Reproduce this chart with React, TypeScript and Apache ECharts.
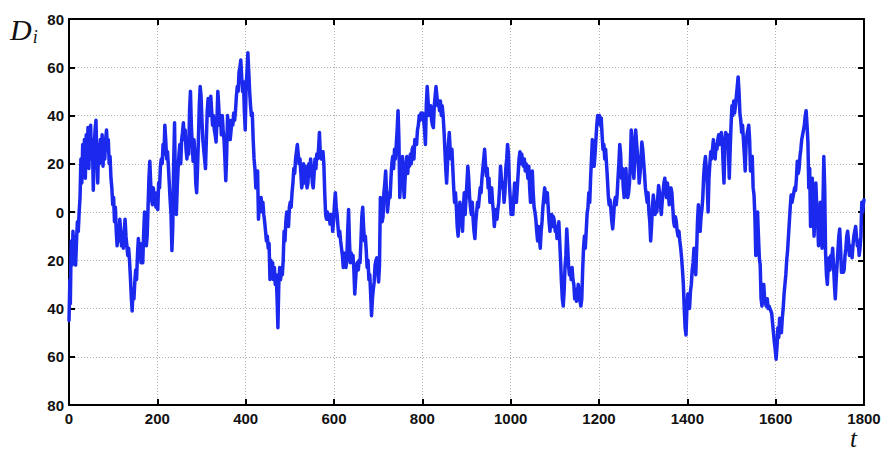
import React, { useEffect, useRef } from "react";
import * as echarts from "echarts";

// Sample times (t) and the measured deviation D_i at each time
const tPart1 = [0,2,3,5,7,9,11,13,15,17,19,21,23,25,27,29,31,33,35,37,39,41,43,45,47,49,51,53,55,57,59,61,63,65,67,69,71,73,75,77,79,81,83,85,87,89,91,93,95,97,99,101,103,105,107,109,111,113,115,117,119,121,123,125,127,129,131,133,135,137,139,141,143,145,147,149,151,153,155,157,159,161,163,165,167,169,171,173,175,177,179,181,183,185,187,189,191,193,195,197,199,201,203,205,207,209,211,213,215,217,219,221,223,225,227,229,231,233,235,237,239,241,243,245,247,249,251,253,255,257,259,261,263,265,267,269,271,273,275,277,279,281,283,285,287,289,291,293,295,297,299];
const dPart1 = [-45,-28,-38,-12,-22,-8,-18,-10,-22,-12,-4,-8,0,6,22,12,28,16,30,14,32,20,35,18,33,36,22,30,9,26,34,38,24,12,28,20,30,24,32,19,28,22,30,34,26,30,20,23,14,10,3,6,-4,2,-8,-14,-6,-12,-3,-8,-14,-10,-15,-8,-3,-10,-14,-18,-15,-20,-27,-35,-41,-32,-36,-29,-24,-28,-18,-11,-16,-13,-21,-17,-21,-9,0,-6,-14,-10,2,14,21,12,5,3,10,6,4,2,8,1,12,10,19,22,20,28,24,36,30,22,25,19,12,5,-1,-16,-6,20,37,8,-1,10,18,24,28,20,30,33,37,30,34,26,22,28,24,42,50,36,28,21,30,24,12,8,18,30,44,52,48];

const tPart2 = [301,303,305,307,309,311,313,315,317,319,321,323,325,327,329,331,333,335,337,339,341,343,345,347,349,351,353,355,357,359,361,363,365,367,369,371,373,375,377,379,381,383,385,387,389,391,393,395,397,399,401,403,405,407,409,411,413,415,417,419,421,423,425,427,429,431,433,435,437,439,441,443,445,447,449,451,453,455,457,459,461,463,465,467,469,471,473,475,477,479,481,483,485,487,489,491,493,495,497,499,501,503,505,507,509,511,513,515,517,519,521,523,525,527,529,531,533,535,537,539,541,543,545,547,549,551,553,555,557,559,561,563,565,567,569,571,573,575,577,579,581,583,585,587,589,591,593,595,597,599];
const dPart2 = [38,30,26,22,18,30,42,47,40,44,48,42,36,40,34,32,29,38,50,44,36,40,32,40,34,30,22,13,24,40,32,38,30,34,38,36,41,38,42,48,52,50,58,60,63,56,50,54,42,34,52,58,66,58,50,44,40,41,30,22,18,10,14,17,-3,4,2,6,0,4,-1,-4,-8,-12,-10,-15,-13,-28,-20,-25,-21,-28,-23,-30,-26,-35,-48,-30,-23,-28,-24,-26,-20,-8,-12,-4,0,-1,-6,2,4,2,8,12,18,16,22,25,28,24,20,22,16,10,13,20,12,19,14,10,12,20,15,22,18,12,10,16,22,18,24,22,26,33,24,22,24,25,20,8,-1,-3,0,-3,-1,-5,-3,-1,-8,-4];

const tPart3 = [601,603,605,607,609,611,613,615,617,619,621,623,625,627,629,631,633,635,637,639,641,643,645,647,649,651,653,655,657,659,661,663,665,667,669,671,673,675,677,679,681,683,685,687,689,691,693,695,697,699,701,703,705,707,709,711,713,715,717,719,721,723,725,727,729,731,733,735,737,739,741,743,745,747,749,751,753,755,757,759,761,763,765,767,769,771,773,775,777,779,781,783,785,787,789,791,793,795,797,799,801,803,805,807,809,811,813,815,817,819,821,823,825,827,829,831,833,835,837,839,841,843,845,847,849,851,853,855,857,859,861,863,865,867,869,871,873,875,877,879,881,883,885,887,889,891,893,895,897,899];
const dPart3 = [3,8,2,-1,-6,-10,-8,-12,-15,-18,-23,-17,-21,-23,-20,-8,1,-12,-21,-17,-20,-18,-24,-34,-28,-22,-21,-24,-20,-21,-12,-2,2,-6,-12,-10,-16,-23,-20,-28,-26,-34,-43,-36,-32,-29,-22,-20,-19,-24,-29,-22,6,0,-4,-2,8,12,17,8,0,4,8,6,14,20,23,18,26,22,28,34,42,30,6,14,18,23,12,6,14,20,23,16,22,19,24,20,26,27,22,30,28,28,34,36,40,38,41,40,41,38,34,28,44,52,46,40,41,44,38,36,35,44,48,52,48,44,46,42,46,40,44,40,34,26,18,12,20,28,33,26,22,26,18,10,4,8,2,-6,-10,-2,4,1,-4,-8,2,8,-1,6];

const tPart4 = [901,903,905,907,909,911,913,915,917,919,921,923,925,927,929,931,933,935,937,939,941,943,945,947,949,951,953,955,957,959,961,963,965,967,969,971,973,975,977,979,981,983,985,987,989,991,993,995,997,999,1001,1003,1005,1007,1009,1011,1013,1015,1017,1019,1021,1023,1025,1027,1029,1031,1033,1035,1037,1039,1041,1043,1045,1047,1049,1051,1053,1055,1057,1059,1061,1063,1065,1067,1069,1071,1073,1075,1077,1079,1081,1083,1085,1087,1089,1091,1093,1095,1097,1099,1101,1103,1105,1107,1109,1111,1113,1115,1117,1119,1121,1123,1125,1127,1129,1131,1133,1135,1137,1139,1141,1143,1145,1147,1149,1151,1153,1155,1157,1159,1161,1163,1165,1167,1169,1171,1173,1175,1177,1179,1181,1183,1185,1187,1189,1191,1193,1195,1197,1199];
const dPart4 = [12,19,14,6,2,-1,4,-3,-8,-11,-4,0,4,2,6,10,8,14,18,22,26,20,15,18,10,14,4,8,10,4,0,-6,-2,1,-3,1,4,10,19,14,10,12,4,8,18,22,28,24,12,6,-1,2,-1,6,12,8,4,10,16,22,25,20,24,21,19,22,17,20,18,14,19,10,4,12,17,8,2,0,-3,-8,-12,-6,-10,-15,-8,-4,2,6,10,7,4,8,2,-4,-8,-3,-1,-6,-2,-4,-8,-6,-11,-8,-4,-12,-20,-29,-36,-39,-33,-23,-18,-7,-14,-22,-26,-24,-28,-23,-28,-30,-36,-32,-37,-34,-30,-33,-37,-39,-36,-24,-15,-10,-15,-8,-1,2,8,4,14,22,30,26,19,24,30,36,40,38];

const tPart5 = [1201,1203,1205,1207,1209,1211,1213,1215,1217,1219,1221,1223,1225,1227,1229,1231,1233,1235,1237,1239,1241,1243,1245,1247,1249,1251,1253,1255,1257,1259,1261,1263,1265,1267,1269,1271,1273,1275,1277,1279,1281,1283,1285,1287,1289,1291,1293,1295,1297,1299,1301,1303,1305,1307,1309,1311,1313,1315,1317,1319,1321,1323,1325,1327,1329,1331,1333,1335,1337,1339,1341,1343,1345,1347,1349,1351,1353,1355,1357,1359,1361,1363,1365,1367,1369,1371,1373,1375,1377,1379,1381,1383,1385,1387,1389,1391,1393,1395,1397,1399,1401,1403,1405,1407,1409,1411,1413,1415,1417,1419,1421,1423,1425,1427,1429,1431,1433,1435,1437,1439,1441,1443,1445,1447,1449,1451,1453,1455,1457,1459,1461,1463,1465,1467,1469,1471,1473,1475,1477,1479,1481,1483,1485,1487,1489,1491,1493,1495,1497,1499];
const dPart5 = [40,36,39,32,26,28,22,26,20,14,7,3,5,1,-4,-7,-2,4,6,3,7,14,20,28,24,14,18,10,6,14,18,10,6,8,12,20,34,30,18,14,22,34,29,24,20,12,16,22,29,26,21,16,10,7,4,8,0,-4,-12,-6,2,7,3,-1,4,0,6,11,8,3,-1,4,8,12,14,10,6,12,8,3,6,10,8,2,-4,-6,-2,-4,-8,-10,-8,-12,-15,-19,-24,-30,-40,-48,-51,-40,-34,-38,-40,-33,-30,-24,-21,-15,-20,-26,-16,-4,3,-2,-8,-2,1,6,15,20,23,18,12,0,14,20,25,22,26,30,26,22,28,26,30,32,28,30,33,30,20,12,26,33,30,32,26,14,26,36];

const tPart6 = [1501,1503,1505,1507,1509,1511,1513,1515,1517,1519,1521,1523,1525,1527,1529,1531,1533,1535,1537,1539,1541,1543,1545,1547,1549,1551,1553,1555,1557,1559,1561,1563,1565,1567,1569,1571,1573,1575,1577,1579,1581,1583,1585,1587,1589,1591,1593,1595,1597,1599,1601,1603,1605,1607,1609,1611,1613,1615,1617,1619,1621,1623,1625,1627,1629,1631,1633,1635,1637,1639,1641,1643,1645,1647,1649,1651,1653,1655,1657,1659,1661,1663,1665,1667,1669,1671,1673,1675,1677,1679,1681,1683,1685,1687,1689,1691,1693,1695,1697,1699,1701,1703,1705,1707,1709,1711,1713,1715,1717,1719,1721,1723,1725,1727,1729,1731,1733,1735,1737,1739,1741,1743,1745,1747,1749,1751,1753,1755,1757,1759,1761,1763,1765,1767,1769,1771,1773,1775,1777,1779,1781,1783,1785,1787,1789,1791,1793,1795,1797,1799,1800];
const dPart6 = [44,40,46,41,44,48,52,56,50,41,38,33,36,30,24,17,28,32,34,36,30,17,22,23,10,7,-2,-18,-8,0,-10,-19,-22,-36,-39,-34,-30,-36,-38,-39,-36,-40,-39,-40,-41,-42,-46,-50,-54,-57,-61,-56,-48,-52,-44,-47,-50,-44,-40,-34,-30,-26,-20,-16,-10,-4,2,7,4,6,8,10,9,14,21,16,18,23,26,30,32,34,36,40,42,36,29,10,18,-6,4,14,0,-10,4,12,2,-4,-14,-6,4,-8,-15,2,23,10,-17,-26,-30,-22,-19,-24,-18,-20,-15,-22,-30,-36,-28,-22,-16,-10,-7,-15,-25,-22,-25,-24,-18,-15,-10,-8,-12,-18,-14,-16,-19,-14,-10,-8,-6,-10,-14,-12,-18,-15,-10,4,0,4,5];

// Axis tick values
const xTicks = [0, 200, 400, 600, 800, 1000, 1200, 1400, 1600, 1800];
const yTicks = [-80, -60, -40, -20, 0, 20, 40, 60, 80];

const tValues = [...tPart1, ...tPart2, ...tPart3, ...tPart4, ...tPart5, ...tPart6];
const dValues = [...dPart1, ...dPart2, ...dPart3, ...dPart4, ...dPart5, ...dPart6];

export default function App() {
  const ref = useRef<HTMLDivElement>(null);

  useEffect(() => {
    if (!ref.current) return;
    const chart = echarts.init(ref.current, null, { renderer: "svg" });
    const series = tValues.map((t, i) => [t, dValues[i]]);
    const labelFont = {
      fontFamily: "Liberation Sans, Arial, sans-serif",
      fontSize: 15,
      fontWeight: "bold" as const,
      color: "#111",
    };
    const xStep = xTicks[1] - xTicks[0];
    const yStep = yTicks[1] - yTicks[0];
    const axisLine = { show: true, onZero: false, lineStyle: { color: "#000", width: 2 } };
    const tickIn = { show: true, inside: true, length: 6, lineStyle: { color: "#000", width: 2 } };
    const dotted = { show: true, lineStyle: { color: "#b0b0b0", type: [1, 2], width: 1 } };

    chart.setOption({
      animation: false,
      backgroundColor: "#fff",
      grid: { left: 69, right: 24, top: 19, bottom: 48, containLabel: false },
      xAxis: [
        {
          type: "value",
          min: xTicks[0],
          max: xTicks[xTicks.length - 1],
          interval: xStep,
          position: "bottom",
          axisLine,
          axisTick: tickIn,
          axisLabel: { ...labelFont, margin: 5, lineHeight: 16, formatter: (v: number) => String(v) },
          splitLine: dotted,
        },
        {
          type: "value",
          min: xTicks[0],
          max: xTicks[xTicks.length - 1],
          interval: xStep,
          position: "top",
          axisLine,
          axisTick: tickIn,
          axisLabel: { show: false },
          splitLine: { show: false },
        },
      ],
      yAxis: [
        {
          type: "value",
          min: yTicks[0],
          max: yTicks[yTicks.length - 1],
          interval: yStep,
          position: "left",
          axisLine,
          axisTick: tickIn,
          axisLabel: { ...labelFont, margin: 5, formatter: (v: number) => String(Math.abs(v)) },
          splitLine: dotted,
        },
        {
          type: "value",
          min: yTicks[0],
          max: yTicks[yTicks.length - 1],
          interval: yStep,
          position: "right",
          axisLine,
          axisTick: tickIn,
          axisLabel: { show: false },
          splitLine: { show: false },
        },
      ],
      series: [
        {
          type: "line",
          data: series,
          showSymbol: false,
          symbol: "none",
          lineStyle: { color: "#1b28ee", width: 3.5, join: "round", cap: "round" },
          z: 3,
        },
      ],
      graphic: [
        {
          type: "text",
          left: 10,
          top: 14,
          style: {
            text: "{d|D}{s|i}",
            rich: {
              d: { fontFamily: "Liberation Serif, Times New Roman, serif", fontStyle: "italic", fontSize: 30, fill: "#111" },
              s: { fontFamily: "Liberation Serif, Times New Roman, serif", fontStyle: "italic", fontSize: 18, fill: "#111", padding: [16, 0, 0, 1] },
            },
          },
        },
        {
          type: "text",
          left: 850,
          top: 426,
          style: {
            text: "t",
            fontFamily: "Liberation Serif, Times New Roman, serif",
            fontStyle: "italic",
            fontSize: 25,
            lineHeight: 22,
            fill: "#111",
          },
        },
      ],
    });
    return () => chart.dispose();
  }, []);

  return (
    <div
      ref={ref}
      style={{ position: "fixed", left: 0, top: 0, width: 888, height: 453, background: "#fff" }}
    />
  );
}
